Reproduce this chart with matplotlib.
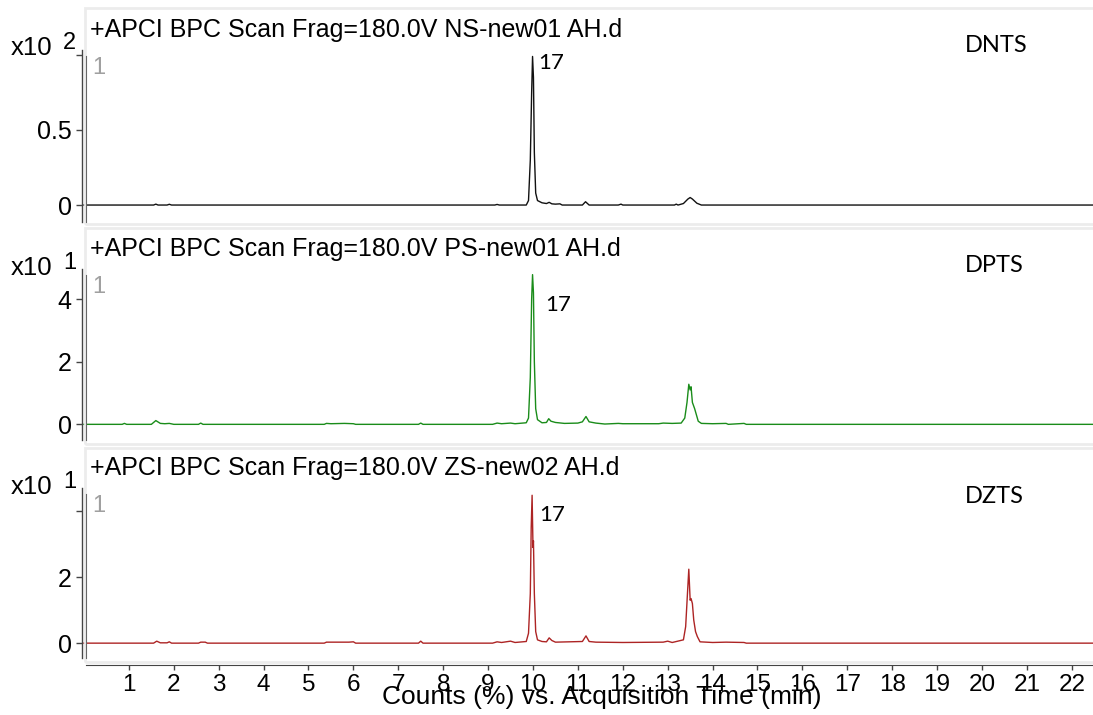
import matplotlib
matplotlib.use("Agg")
import matplotlib.pyplot as plt
from matplotlib.patches import Rectangle
from matplotlib.lines import Line2D

W, H = 1093, 715

# Retention time (min) and intensity for each trace
t_ns = [0.0, 1.55, 1.6, 1.65, 1.85, 1.9, 1.95, 9.15, 9.2, 9.25, 9.85, 9.9, 9.94,
        9.97, 9.99, 10.01, 10.03, 10.06, 10.1, 10.2, 10.3, 10.36, 10.42, 10.5,
        10.6, 10.65, 11.1, 11.17, 11.25, 11.9, 11.96, 12.0, 13.15, 13.19, 13.23,
        13.35, 13.45, 13.5, 13.55, 13.65, 13.75, 22.5]
i_ns = [0, 0, 0.006, 0, 0, 0.005, 0, 0, 0.004, 0, 0, 0.03, 0.3,
        0.75, 0.99, 0.85, 0.35, 0.08, 0.03, 0.015, 0.01, 0.018, 0.008, 0.006,
        0.008, 0, 0, 0.022, 0, 0, 0.006, 0, 0, 0.006, 0,
        0.01, 0.04, 0.05, 0.04, 0.012, 0, 0]

t_ps = [0.0, 0.85, 0.9, 0.95, 1.5, 1.6, 1.7, 1.8, 1.9, 2.0, 2.55, 2.6, 2.65,
        5.35, 5.4, 5.5, 5.8, 6.0, 6.05, 7.45, 7.5, 7.55, 9.1, 9.2, 9.3, 9.5,
        9.6, 9.85, 9.9, 9.94, 9.97, 9.99, 10.01, 10.03, 10.06, 10.1, 10.2,
        10.3, 10.35, 10.4, 10.5, 10.7, 11.0, 11.1, 11.18, 11.25, 11.4, 11.6,
        11.9, 12.0, 12.8, 12.9, 13.1, 13.3, 13.38, 13.43, 13.47, 13.5, 13.52,
        13.55, 13.6, 13.63, 13.68, 13.75, 14.0, 14.3, 14.35, 14.7, 14.75, 22.5]
i_ps = [0, 0, 0.03, 0, 0, 0.12, 0.03, 0.02, 0.03, 0, 0, 0.04, 0,
        0, 0.03, 0.02, 0.03, 0.02, 0, 0, 0.04, 0, 0, 0.04, 0.02, 0.04,
        0.02, 0.05, 0.2, 1.5, 4.0, 4.78, 4.2, 2.0, 0.5, 0.15, 0.05,
        0.06, 0.18, 0.1, 0.06, 0.03, 0.04, 0.08, 0.25, 0.08, 0.04, 0.01,
        0.03, 0.02, 0.02, 0.04, 0.03, 0.04, 0.2, 0.7, 1.28, 1.1, 1.2,
        0.7, 0.5, 0.35, 0.1, 0.03, 0.02, 0.03, 0, 0.03, 0, 0]

t_zs = [0.0, 1.55, 1.62, 1.7, 1.85, 1.9, 1.95, 2.55, 2.6, 2.7, 2.75, 5.35,
        5.4, 5.9, 6.0, 6.05, 7.45, 7.5, 7.55, 9.1, 9.2, 9.3, 9.5, 9.6, 9.85,
        9.9, 9.94, 9.96, 9.98, 10.0, 10.01, 10.03, 10.06, 10.1, 10.2, 10.3,
        10.36, 10.42, 10.5, 11.1, 11.18, 11.25, 11.4, 12.0, 12.9, 13.0, 13.1,
        13.35, 13.4, 13.44, 13.47, 13.5, 13.52, 13.55, 13.58, 13.62, 13.66,
        13.72, 14.0, 14.3, 14.7, 14.75, 22.5]
i_zs = [0, 0, 0.06, 0.01, 0.01, 0.04, 0, 0, 0.03, 0.03, 0, 0,
        0.03, 0.03, 0.04, 0, 0, 0.06, 0, 0, 0.04, 0.02, 0.06, 0.02, 0.05,
        0.3, 1.5, 3.5, 4.48, 2.9, 3.1, 1.5, 0.35, 0.1, 0.05, 0.04,
        0.16, 0.08, 0.03, 0.05, 0.22, 0.05, 0.03, 0.02, 0.03, 0.06, 0.02,
        0.1, 0.5, 1.5, 2.24, 1.3, 1.35, 1.2, 0.7, 0.35, 0.2,
        0.04, 0.02, 0.03, 0.02, 0, 0]

titles = ["+APCI BPC Scan Frag=180.0V NS-new01 AH.d",
          "+APCI BPC Scan Frag=180.0V PS-new01 AH.d",
          "+APCI BPC Scan Frag=180.0V ZS-new02 AH.d"]
samples = ["DNTS", "DPTS", "DZTS"]
exponents = ["2", "1", "1"]
peak_label = "17"
x_ticks = list(range(1, 23))

traces = [(t_ns, i_ns), (t_ps, i_ps), (t_zs, i_zs)]
colors = ["#111111", "#1a8c1a", "#ad2424"]
ylims = [(-0.113, 1.033), (-0.5, 4.96), (-0.45, 4.7)]
yticks = [[0, 0.5, 1], [0, 2, 4], [0, 2, 4]]
ytick_labels = [["0", "0.5", ""], ["0", "2", "4"], ["0", "2", ""]]

# panel geometry in pixels (top, bottom of axes; frame top, bottom)
ax_y = [(50, 222), (269, 440), (488, 658)]
frame_y = [(8, 224), (228, 444), (448, 662)]
title_base = [37, 256, 475]
x10_base = [55, 275, 494]
sample_base = [52, 272, 503]
peak_pos = [(538, 69), (545, 311), (539, 521)]

XMIN = (82 - 84) / 44.9
XMAX = (1093 - 84) / 44.9

fig = plt.figure(figsize=(W / 100, H / 100), dpi=100)
fig.patch.set_facecolor("white")


def ftext(x, y, s, **kw):
    return fig.text(x / W, 1 - y / H, s, **kw)


for k in range(3):
    y0, y1 = frame_y[k]
    fig.add_artist(Rectangle((85 / W, 1 - y1 / H), (1110 - 85) / W, (y1 - y0) / H,
                             transform=fig.transFigure, fill=False,
                             ec="#ececec", lw=2))

    top, bot = ax_y[k]
    ax = fig.add_axes([82 / W, 1 - bot / H, (1093 - 82) / W, (bot - top) / H])
    ax.set_facecolor("none")
    t, inten = traces[k]
    ax.plot(t, inten, color=colors[k], lw=1.0)
    ax.set_xlim(XMIN, XMAX)
    ax.set_ylim(*ylims[k])
    for s in ["top", "right", "bottom"]:
        ax.spines[s].set_visible(False)
    ax.spines["left"].set_color("#444444")
    ax.spines["left"].set_linewidth(1.0)
    ax.set_xticks([])
    ax.set_yticks(yticks[k])
    ax.set_yticklabels(ytick_labels[k], fontsize=18, family="Liberation Sans")
    ax.tick_params(axis="y", direction="out", length=4.5, width=1,
                   color="#444444", pad=3)

    fig.add_artist(Line2D([86 / W, 86 / W], [1 - (top + 6) / H, 1 - bot / H],
                          transform=fig.transFigure, color="#666666", lw=0.8))

    ftext(90, title_base[k], titles[k], fontsize=18, family="Liberation Sans",
          va="baseline")
    ftext(11, x10_base[k], "x10", fontsize=18.5, family="Liberation Sans",
          va="baseline")
    ftext(63, x10_base[k] - 6, exponents[k], fontsize=17,
          family="Liberation Sans", va="baseline")
    ftext(92, top + 24, "1", fontsize=17, family="Liberation Sans",
          color="#a0a0a0", va="baseline")
    ftext(965, sample_base[k], samples[k], fontsize=17, family="Lato",
          va="baseline")
    px, py = peak_pos[k]
    ftext(px, py, peak_label, fontsize=16, family="Lato", va="baseline")

# shared time axis
axx = fig.add_axes([86 / W, 1 - 665 / H, (1093 - 86) / W, 4 / H])
axx.set_facecolor("none")
axx.set_xlim((86 - 84) / 44.9, XMAX)
axx.set_ylim(0, 1)
for s in ["top", "right", "left"]:
    axx.spines[s].set_visible(False)
axx.spines["bottom"].set_color("#444444")
axx.set_yticks([])
axx.set_xticks(x_ticks)
axx.set_xticklabels([str(v) for v in x_ticks], fontsize=17.5,
                    family="Liberation Sans")
axx.tick_params(axis="x", direction="out", length=3.5, width=1,
                color="#444444", pad=3)
ftext(602, 704, "Counts (%) vs. Acquisition Time (min)", fontsize=19,
      family="Liberation Sans", ha="center", va="baseline")

fig.savefig("out.png", dpi=100)
